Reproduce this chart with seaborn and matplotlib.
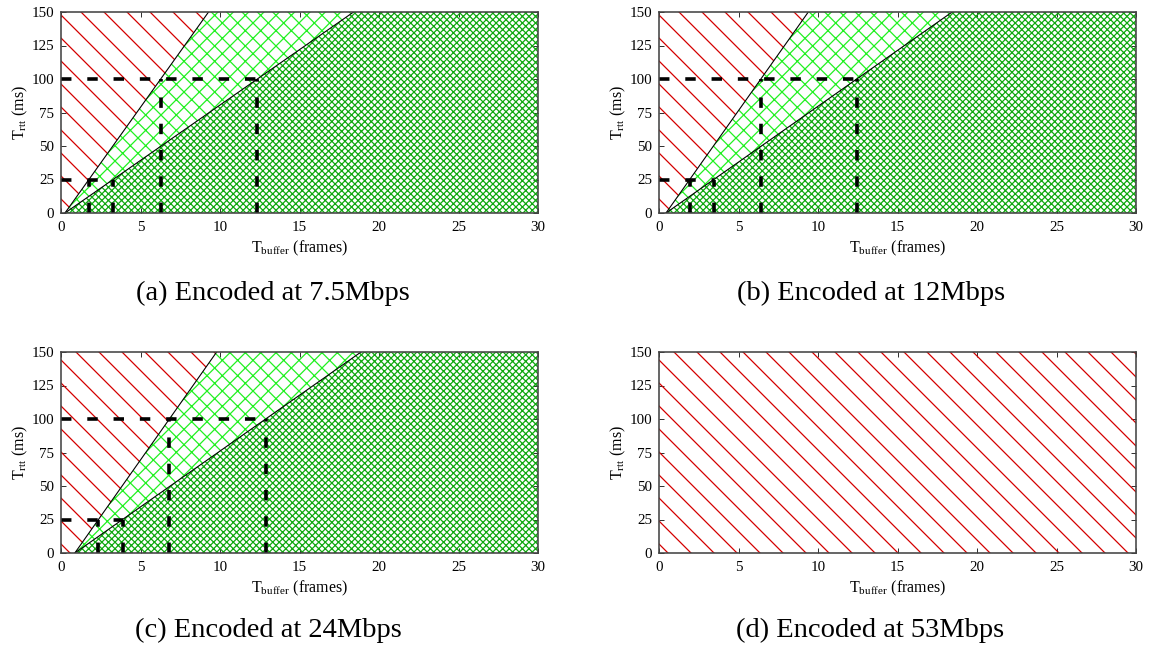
import numpy as np
import pandas as pd
import matplotlib
matplotlib.use("Agg")
import matplotlib.pyplot as plt
import seaborn as sns

# ---- data -------------------------------------------------------------
captions = [
    "(a) Encoded at 7.5Mbps",
    "(b) Encoded at 12Mbps",
    "(c) Encoded at 24Mbps",
    "(d) Encoded at 53Mbps",
]
# T_buffer (frames) where both limits start at T_rtt = 0
onset_frames = [0.25, 0.44, 0.87, None]
# T_buffer (frames) where each limit reaches T_rtt = 150 ms
upper_top_frames = [9.28, 9.39, 9.79, None]
lower_top_frames = [18.4, 18.44, 18.87, None]
# RTT levels marked with dashed guides
guide_rtt = [25, 100]

x_ticks = [0, 5, 10, 15, 20, 25, 30]
y_ticks = [0, 25, 50, 75, 100, 125, 150]
X_MAX, Y_MAX = 30, 150

# ---- style ------------------------------------------------------------
DPI = 276
px = 72.0 / DPI  # one pixel in points

sns.set_theme(style="ticks")
plt.rcParams["font.family"] = ["Liberation Serif", "DejaVu Serif"]
plt.rcParams["mathtext.fontset"] = "custom"
plt.rcParams["mathtext.rm"] = "Liberation Serif"
plt.rcParams["mathtext.it"] = "Liberation Serif:italic"
plt.rcParams["hatch.linewidth"] = 1.25 * px
plt.rcParams["text.color"] = "black"
plt.rcParams["axes.labelcolor"] = "black"

RED = "#d40000"
LIGHT_GREEN = "#22f022"
DARK_GREEN = "#10a810"

HATCH_RED = "\\" * 4
HATCH_LIGHT = "x" * 6
HATCH_DARK = "x" * 14

fig = plt.figure(figsize=(1157 / DPI, 670 / DPI), dpi=DPI)

W, H = 1157.0, 670.0
ax_left = [61, 659, 61, 659]
ax_top = [12, 12, 352, 352]
ax_w, ax_h = 477, 201

caption_xy = [(273, 293), (871, 293), (268, 630), (870, 630)]

for i in range(4):
    l, t = ax_left[i], ax_top[i]
    ax = fig.add_axes([l / W, 1 - (t + ax_h) / H, ax_w / W, ax_h / H])
    ax.set_xlim(0, X_MAX)
    ax.set_ylim(0, Y_MAX)

    on = onset_frames[i]
    if on is None:
        ax.fill([0, X_MAX, X_MAX, 0], [0, 0, Y_MAX, Y_MAX], facecolor="none",
                edgecolor=RED, hatch=HATCH_RED, linewidth=0, zorder=1)
    else:
        ut, lt = upper_top_frames[i], lower_top_frames[i]
        # infeasible region (left of the upper limit)
        ax.fill([0, on, ut, 0], [0, 0, Y_MAX, Y_MAX], facecolor="none",
                edgecolor=RED, hatch=HATCH_RED, linewidth=0, zorder=1)
        # region between the two limits
        ax.fill([on, ut, lt], [0, Y_MAX, Y_MAX], facecolor="none",
                edgecolor=LIGHT_GREEN, hatch=HATCH_LIGHT, linewidth=0, zorder=1)
        # region right of the lower limit
        ax.fill([on, X_MAX, X_MAX, lt], [0, 0, Y_MAX, Y_MAX], facecolor="none",
                edgecolor=DARK_GREEN, hatch=HATCH_DARK, linewidth=0, zorder=1)

        limits = pd.DataFrame({
            "frames": [on, ut, on, lt],
            "rtt": [0, Y_MAX, 0, Y_MAX],
            "limit": ["upper", "upper", "lower", "lower"],
        })
        sns.lineplot(data=limits, x="frames", y="rtt", units="limit",
                     estimator=None, sort=False, color="black",
                     linewidth=1.1 * px, ax=ax, zorder=2)

        dash = (0, (2.9, 4.4))
        for lvl in guide_rtt:
            xu = np.interp(lvl, [0, Y_MAX], [on, ut])
            xl = np.interp(lvl, [0, Y_MAX], [on, lt])
            ax.plot([0, xl], [lvl, lvl], color="black", linewidth=3.6 * px,
                    linestyle=dash, zorder=3)
            for xv in (xu, xl):
                ax.plot([xv, xv], [0, lvl], color="black", linewidth=3.6 * px,
                        linestyle=dash, zorder=3)

    ax.set_xticks(x_ticks)
    ax.set_yticks(y_ticks)
    ax.tick_params(direction="in", top=True, right=True, length=5 * px,
                   width=1.0 * px, color="#333333", labelsize=15 * px,
                   labelcolor="black")
    ax.tick_params(axis="x", pad=8 * px)
    ax.tick_params(axis="y", pad=7 * px)
    for sp in ax.spines.values():
        sp.set_linewidth(1.6 * px)
        sp.set_color("#444444")
        sp.set_zorder(4)

    ax.set_xlabel(r"$\mathrm{T_{buffer}}$ (frames)", fontsize=16 * px)
    ax.set_ylabel(r"$\mathrm{T_{rtt}}$ (ms)", fontsize=16 * px)
    ax.xaxis.set_label_coords(0.5, -0.13)
    ax.yaxis.set_label_coords(-0.066, 0.5)
    ax.set_facecolor("white")

    cx, cy = caption_xy[i]
    fig.text(cx / W, 1 - cy / H, captions[i], ha="center", va="center",
             fontsize=28.5 * px)

fig.savefig("out.png", dpi=DPI, facecolor="white")
